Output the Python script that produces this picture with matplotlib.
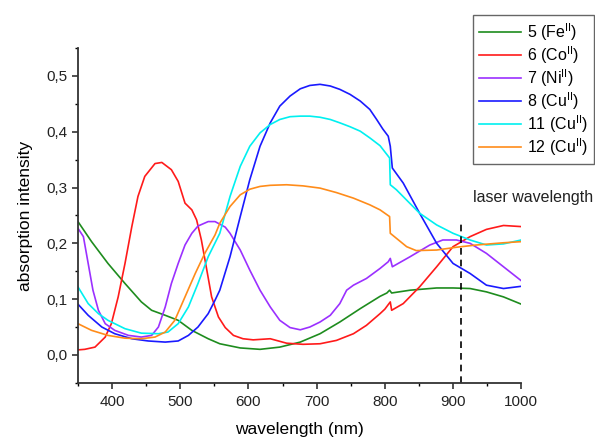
import matplotlib
matplotlib.use('Agg')
import matplotlib.pyplot as plt
from matplotlib.ticker import MultipleLocator, FuncFormatter

plt.rcParams['font.family'] = ['Liberation Sans', 'DejaVu Sans']
plt.rcParams['mathtext.fontset'] = 'custom'
plt.rcParams['mathtext.rm'] = 'Liberation Sans'

# 5 (Fe II)
fe_x = [350, 370, 394, 419, 443, 458, 478, 497, 517, 541, 558, 588, 617, 646, 676, 705, 734, 764,
        793, 803, 807, 810, 837, 876, 900, 925, 949, 974, 1000]
fe_y = [0.239, 0.203, 0.164, 0.128, 0.095, 0.080, 0.071, 0.062, 0.044, 0.029, 0.020, 0.0125, 0.010,
        0.014, 0.023, 0.038, 0.059, 0.083, 0.105, 0.111, 0.116, 0.111, 0.116, 0.120, 0.120, 0.119,
        0.113, 0.104, 0.091]

# 6 (Co II)
co_x = [350, 360, 375, 390, 399, 409, 419, 429, 438, 448, 463, 473, 487, 497, 507, 517, 524, 531,
        539, 546, 556, 566, 578, 592, 607, 632, 656, 680, 705, 729, 754, 773, 793, 800, 808, 810,
        827, 851, 876, 900, 925, 949, 974, 1000]
co_y = [0.009, 0.010, 0.014, 0.032, 0.056, 0.104, 0.164, 0.230, 0.284, 0.320, 0.343, 0.345, 0.332,
        0.311, 0.272, 0.260, 0.242, 0.206, 0.152, 0.104, 0.068, 0.049, 0.035, 0.029, 0.027, 0.029,
        0.021, 0.019, 0.020, 0.026, 0.038, 0.053, 0.074, 0.082, 0.095, 0.080, 0.092, 0.122, 0.158,
        0.194, 0.212, 0.225, 0.232, 0.230]

# 7 (Ni II)
ni_x = [350, 358, 365, 372, 380, 390, 404, 424, 443, 458, 468, 478, 487, 497, 507, 517, 526, 541,
        551, 566, 573, 588, 602, 617, 632, 646, 661, 676, 690, 705, 720, 734, 744, 754, 773, 793,
        805, 808, 811, 837, 866, 885, 905, 925, 949, 974, 1000]
ni_y = [0.227, 0.212, 0.164, 0.116, 0.080, 0.056, 0.044, 0.035, 0.032, 0.035, 0.050, 0.086, 0.128,
        0.164, 0.197, 0.218, 0.231, 0.239, 0.239, 0.229, 0.218, 0.188, 0.152, 0.116, 0.086, 0.062,
        0.049, 0.045, 0.050, 0.059, 0.071, 0.092, 0.116, 0.125, 0.137, 0.155, 0.167, 0.173, 0.158,
        0.176, 0.197, 0.206, 0.206, 0.200, 0.182, 0.158, 0.133]

# 8 (Cu II)
cu8_x = [350, 365, 385, 404, 429, 453, 478, 497, 512, 526, 541, 551, 558, 573, 588, 602, 617, 632,
         646, 661, 676, 690, 705, 720, 734, 749, 764, 778, 788, 797, 805, 808, 811, 827, 851, 876,
         900, 925, 949, 974, 1000]
cu8_y = [0.091, 0.071, 0.050, 0.038, 0.029, 0.025, 0.023, 0.025, 0.035, 0.050, 0.074, 0.098, 0.116,
         0.176, 0.248, 0.314, 0.374, 0.416, 0.446, 0.464, 0.477, 0.483, 0.485, 0.482, 0.476, 0.467,
         0.455, 0.440, 0.422, 0.405, 0.392, 0.374, 0.335, 0.308, 0.254, 0.200, 0.164, 0.146, 0.125,
         0.119, 0.123]

# 11 (Cu II)
cu11_x = [350, 365, 380, 394, 419, 443, 468, 482, 497, 512, 526, 541, 558, 573, 588, 602, 617, 632,
          646, 661, 676, 690, 705, 720, 734, 749, 764, 778, 793, 807, 808, 817, 851, 876, 900, 925,
          949, 974, 1000]
cu11_y = [0.122, 0.092, 0.074, 0.062, 0.047, 0.039, 0.038, 0.041, 0.056, 0.086, 0.128, 0.176, 0.218,
          0.284, 0.338, 0.374, 0.398, 0.413, 0.422, 0.427, 0.428, 0.428, 0.426, 0.422, 0.416, 0.409,
          0.401, 0.389, 0.375, 0.353, 0.305, 0.296, 0.254, 0.233, 0.218, 0.206, 0.197, 0.199, 0.206]

# 12 (Cu II)
cu12_x = [350, 370, 394, 419, 443, 463, 478, 492, 507, 522, 536, 551, 558, 573, 588, 602, 617, 632,
          656, 680, 705, 729, 754, 778, 793, 807, 808, 817, 832, 846, 876, 905, 934, 974, 1000]
cu12_y = [0.056, 0.044, 0.035, 0.030, 0.029, 0.032, 0.041, 0.062, 0.104, 0.146, 0.182, 0.215, 0.236,
          0.266, 0.287, 0.297, 0.302, 0.304, 0.305, 0.303, 0.299, 0.291, 0.281, 0.269, 0.260, 0.248,
          0.218, 0.209, 0.194, 0.187, 0.188, 0.193, 0.197, 0.201, 0.203]

laser = 912

fig = plt.figure(figsize=(5.95, 4.37), dpi=100)
ax = fig.add_axes([0.131, 0.124, 0.745, 0.766])

ax.plot(fe_x, fe_y, color='#1e8c1e', lw=1.2, label='5 (Fe$^{\\mathrm{II}}$)')
ax.plot(co_x, co_y, color='#ff1a1a', lw=1.2, label='6 (Co$^{\\mathrm{II}}$)')
ax.plot(ni_x, ni_y, color='#9b30ff', lw=1.2, label='7 (Ni$^{\\mathrm{II}}$)')
ax.plot(cu8_x, cu8_y, color='#1a1aff', lw=1.2, label='8 (Cu$^{\\mathrm{II}}$)')
ax.plot(cu11_x, cu11_y, color='#00f0f0', lw=1.2, label='11 (Cu$^{\\mathrm{II}}$)')
ax.plot(cu12_x, cu12_y, color='#ff8c1a', lw=1.2, label='12 (Cu$^{\\mathrm{II}}$)')

ax.plot([laser, laser], [-0.05, 0.242], color='black', lw=1.2, ls=(0, (4, 3)))
ax.text(929, 0.283, 'laser wavelength', fontsize=11.5, va='center', ha='left', color='#222222')

ax.set_xlim(350, 1000)
ax.set_ylim(-0.05, 0.55)
ax.xaxis.set_major_locator(MultipleLocator(100))
ax.xaxis.set_minor_locator(MultipleLocator(50))
ax.yaxis.set_major_locator(MultipleLocator(0.1))
ax.yaxis.set_minor_locator(MultipleLocator(0.05))
ax.yaxis.set_major_formatter(FuncFormatter(lambda v, p: ('%.1f' % v).replace('.', ',')))
ax.tick_params(which='major', direction='out', length=4, width=1.1, labelsize=11, colors='#222222')
ax.tick_params(axis='x', which='major', pad=5)
ax.tick_params(which='minor', direction='out', length=2.5, width=1.0)
for s in ['top', 'right']:
    ax.spines[s].set_visible(False)
for s in ['left', 'bottom']:
    ax.spines[s].set_linewidth(1.3)
    ax.spines[s].set_color('#333333')

ax.set_xlabel('wavelength (nm)', fontsize=12.5, labelpad=9)
ax.set_ylabel('absorption intensity', fontsize=12.5, labelpad=10)

leg = fig.legend(loc='upper right', bbox_to_anchor=(594 / 595, 1 - 15 / 437), fontsize=11.5,
                 handlelength=2.6, handletextpad=0.36, labelspacing=0.08, borderpad=0.4,
                 borderaxespad=0, fancybox=False, framealpha=1, edgecolor='#666666')
leg.get_frame().set_linewidth(1.0)

fig.savefig('out.png', dpi=100)
